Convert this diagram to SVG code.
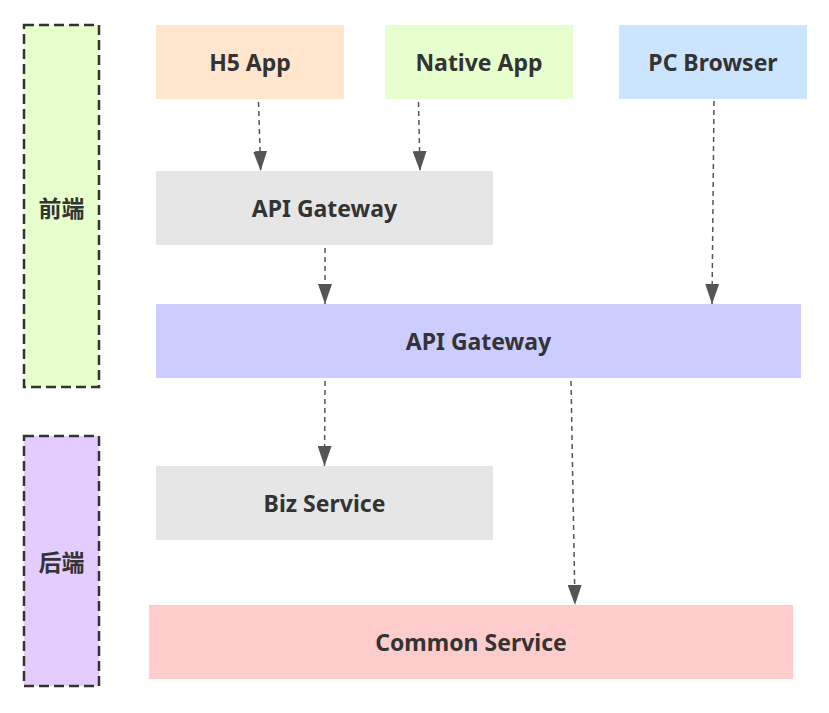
<svg xmlns="http://www.w3.org/2000/svg" width="829" height="713" viewBox="0 0 829 713">
<style>
.t{font-family:"Noto Sans","Noto Sans CJK SC",sans-serif;font-weight:bold;font-size:23px;fill:#333;text-anchor:middle;dominant-baseline:central}
.grp{stroke:#333;stroke-width:2.5;stroke-dasharray:10 5}
.e{fill:none;stroke:#555;stroke-width:1.5;stroke-dasharray:5 4}
</style>
<defs>
<marker id="ah" viewBox="0 0 20 14" refX="20" refY="7" markerWidth="20" markerHeight="14" markerUnits="userSpaceOnUse" orient="auto">
<path d="M0,0 L20,7 L0,14 Z" fill="#555"/>
</marker>
</defs>
<g id="group-frontend"><rect x="24" y="25" width="75" height="362" fill="#e6ffcc" class="grp"/><text class="t" x="61.5" y="208">前端</text></g>
<g id="group-backend"><rect x="24" y="436" width="75" height="250" fill="#e5ccff" class="grp"/><text class="t" x="61.5" y="562">后端</text></g>
<g id="h5"><rect x="156" y="25" width="188" height="74" fill="#ffe6cc"/><text class="t" x="250" y="62">H5 App</text></g>
<g id="native"><rect x="385" y="25" width="188" height="74" fill="#e6ffcc"/><text class="t" x="479" y="62">Native App</text></g>
<g id="pc"><rect x="619" y="25" width="188" height="74" fill="#cce5ff"/><text class="t" x="713" y="62">PC Browser</text></g>
<g id="gw1"><rect x="156" y="171" width="337" height="74" fill="#e6e6e6"/><text class="t" x="324.5" y="208">API Gateway</text></g>
<g id="gw2"><rect x="156" y="304" width="645" height="74" fill="#ccccff"/><text class="t" x="478.5" y="341">API Gateway</text></g>
<g id="biz"><rect x="156" y="466" width="337" height="74" fill="#e6e6e6"/><text class="t" x="324.5" y="503">Biz Service</text></g>
<g id="common"><rect x="149" y="605" width="644" height="74" fill="#ffcccc"/><text class="t" x="471" y="642">Common Service</text></g>
<g id="edges">
<path class="e" d="M258.5,102 L260.7,171" marker-end="url(#ah)"/>
<path class="e" d="M418.5,102 L420,171" marker-end="url(#ah)"/>
<path class="e" d="M714,101 L712,304" marker-end="url(#ah)"/>
<path class="e" d="M325,248 L325,304" marker-end="url(#ah)"/>
<path class="e" d="M325,381 L324.5,466" marker-end="url(#ah)"/>
<path class="e" d="M571,381 L575,605" marker-end="url(#ah)"/>
</g>
</svg>
